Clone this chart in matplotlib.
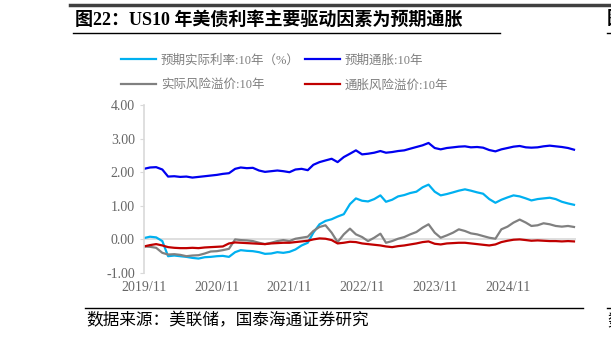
import matplotlib.pyplot as plt
import matplotlib.dates as mdates
import pandas as pd

plt.rcParams['font.family'] = ['Liberation Serif', 'Noto Sans CJK SC']

# monthly readings, 2019/11 - 2025/10
dates = pd.date_range('2019-11-01', periods=72, freq='MS')

real_rate = [0.04, 0.08, 0.06, -0.05, -0.50, -0.48, -0.50, -0.52, -0.55, -0.57, -0.53, -0.52,
             -0.50, -0.49, -0.52, -0.38, -0.32, -0.34, -0.35, -0.38, -0.43, -0.42, -0.38, -0.40,
             -0.37, -0.30, -0.18, -0.10, 0.20, 0.45, 0.55, 0.60, 0.68, 0.75, 1.05, 1.22,
             1.15, 1.13, 1.20, 1.31, 1.12, 1.18, 1.28, 1.32, 1.38, 1.42, 1.55, 1.63,
             1.42, 1.31, 1.35, 1.40, 1.45, 1.49, 1.45, 1.40, 1.36, 1.20, 1.09, 1.18,
             1.25, 1.31, 1.28, 1.22, 1.16, 1.20, 1.22, 1.24, 1.20, 1.12, 1.07, 1.03]

exp_infl = [2.10, 2.14, 2.15, 2.08, 1.87, 1.88, 1.86, 1.87, 1.84, 1.86, 1.88, 1.90,
            1.92, 1.95, 1.97, 2.10, 2.14, 2.12, 2.13, 2.05, 2.01, 2.03, 2.05, 2.03,
            2.00, 2.08, 2.10, 2.06, 2.22, 2.30, 2.35, 2.40, 2.30, 2.45, 2.55, 2.65,
            2.53, 2.55, 2.58, 2.63, 2.58, 2.60, 2.63, 2.65, 2.70, 2.75, 2.80, 2.87,
            2.72, 2.68, 2.72, 2.74, 2.76, 2.77, 2.74, 2.75, 2.73, 2.66, 2.62, 2.68,
            2.72, 2.76, 2.78, 2.74, 2.73, 2.74, 2.77, 2.79, 2.77, 2.75, 2.72, 2.67]

real_prem = [-0.21, -0.22, -0.25, -0.40, -0.45, -0.44, -0.46, -0.50, -0.48, -0.47, -0.42, -0.36,
             -0.35, -0.32, -0.28, 0.00, -0.02, -0.03, -0.05, -0.10, -0.14, -0.10, -0.05, -0.02,
             -0.05, 0.02, 0.05, 0.08, 0.25, 0.37, 0.42, 0.20, -0.08, 0.15, 0.32, 0.15,
             0.07, -0.05, 0.05, 0.17, -0.10, -0.05, 0.02, 0.07, 0.15, 0.22, 0.35, 0.45,
             0.20, 0.05, 0.12, 0.20, 0.30, 0.25, 0.18, 0.15, 0.10, 0.05, 0.02, 0.30,
             0.38, 0.50, 0.59, 0.50, 0.40, 0.42, 0.48, 0.45, 0.40, 0.38, 0.40, 0.37]

infl_prem = [-0.21, -0.17, -0.14, -0.18, -0.23, -0.25, -0.26, -0.26, -0.25, -0.26, -0.24, -0.23,
             -0.22, -0.21, -0.12, -0.09, -0.10, -0.11, -0.12, -0.13, -0.14, -0.12, -0.11, -0.10,
             -0.10, -0.08, -0.06, -0.04, 0.00, 0.03, 0.02, -0.02, -0.12, -0.10, -0.07, -0.08,
             -0.12, -0.14, -0.16, -0.18, -0.21, -0.23, -0.20, -0.18, -0.15, -0.12, -0.08, -0.06,
             -0.13, -0.15, -0.12, -0.11, -0.10, -0.10, -0.12, -0.14, -0.16, -0.18, -0.15, -0.08,
             -0.04, -0.01, 0.00, -0.02, -0.04, -0.03, -0.04, -0.05, -0.05, -0.06, -0.05, -0.06]

labels = ['预期实际利率:10年（%）', '实际风险溢价:10年', '预期通胀:10年', '通胀风险溢价:10年']
colors = ['#00B0F0', '#808080', '#0000F0', '#C00000']
tick_dates = pd.to_datetime(['2019-11-01', '2020-11-01', '2021-11-01', '2022-11-01',
                             '2023-11-01', '2024-11-01'])

fig = plt.figure(figsize=(6.11, 3.41), dpi=100)
ax = fig.add_axes([0.2357, 0.1994, 0.707, 0.4927])

ax.axhline(0, color='#d9d9d9', lw=1.2, zorder=1)
handles = []
for vals, c, lab in zip([real_rate, real_prem, exp_infl, infl_prem], colors, labels):
    h, = ax.plot(dates, vals, color=c, lw=1.6, label=lab, zorder=2)
    handles.append(h)

ax.set_ylim(-1, 4)
ax.set_xlim(dates[0], dates[-1] + pd.Timedelta(days=10))
ax.set_yticks([-1, 0, 1, 2, 3, 4])
ax.set_yticklabels([f'{v:.2f}' for v in [-1, 0, 1, 2, 3, 4]])
ax.set_xticks(tick_dates)
ax.xaxis.set_major_formatter(mdates.DateFormatter('%Y/%m'))
for s in ['top', 'right', 'bottom']:
    ax.spines[s].set_visible(False)
ax.spines['left'].set_color('#d9d9d9')
ax.spines['left'].set_linewidth(1.2)
ax.tick_params(axis='y', colors='#d9d9d9', labelcolor='#666666', labelsize=10, length=3)
ax.tick_params(axis='x', length=0, labelcolor='#666666', labelsize=10, pad=6)

fig.legend(handles=handles, labels=labels, ncol=2, loc='upper left',
           bbox_to_anchor=(0.198, 0.84), frameon=False, fontsize=9,
           handlelength=2.8, handletextpad=0.4, columnspacing=0.4,
           labelspacing=1.0, borderpad=0, borderaxespad=0, labelcolor='#7f7f7f')

# header / footer (right edge shows the cut-off start of the next panel)
fig.add_artist(plt.Line2D([70/611, 1], [1 - 5/341] * 2, color='#404040', lw=2.5))
fig.add_artist(plt.Line2D([73/611, 500/611], [1 - 33/341] * 2, color='black', lw=1))
fig.add_artist(plt.Line2D([607/611, 1], [1 - 33/341] * 2, color='black', lw=1))
fig.text(75/611, 1 - 20/341, '图22：US10 年美债利率主要驱动因素为预期通胀', fontsize=13,
         fontweight='bold', va='center', ha='left')
fig.text(607/611, 1 - 20/341, '图', fontsize=13, fontweight='bold', va='center', ha='left')

fig.add_artist(plt.Line2D([85/611, 583/611], [1 - 308/341] * 2, color='black', lw=1))
fig.add_artist(plt.Line2D([607/611, 1], [1 - 308/341] * 2, color='black', lw=1))
fig.text(86/611, 1 - 321/341, '数据来源：美联储，国泰海通证券研究', fontsize=12,
         va='center', ha='left')
fig.text(607/611, 1 - 321/341, '数', fontsize=12, va='center', ha='left')

fig.savefig('out.png', dpi=100)
